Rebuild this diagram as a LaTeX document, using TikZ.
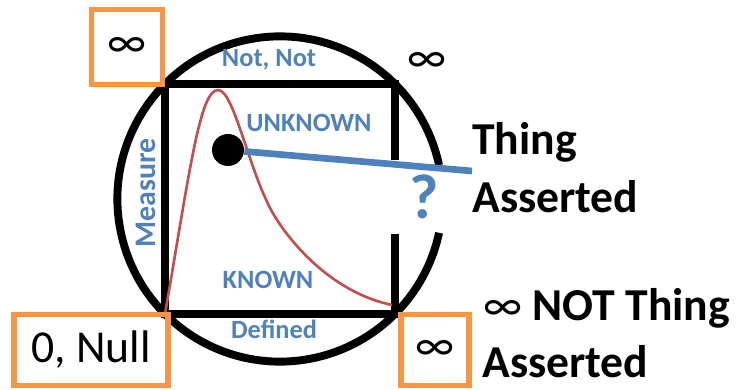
\documentclass[tikz,border=0pt]{standalone}
\usepackage{fontspec}
\setmainfont{Carlito}
\usepackage{tikz}
\definecolor{ablue}{RGB}{79,129,189}
\definecolor{aorange}{RGB}{247,150,70}
\definecolor{ared}{RGB}{192,80,77}

\begin{document}
\begin{tikzpicture}[x=0.02cm, y=0.02cm,
  heavy/.style={line width=4.5pt},
  bluetext/.style={text=ablue, font=\fontsize{15}{18}\selectfont\bfseries, inner sep=0pt, anchor=base},
  bigtext/.style={font=\fontsize{26}{31}\selectfont\bfseries, inner sep=0pt, anchor=base west},
  obox/.style={draw=aorange, line width=3.4pt, inner sep=0pt, font=\fontsize{26}{31}\selectfont}]
\useasboundingbox (0, 0) rectangle (743, 389);
% ring and square
\draw[heavy] (280, 190) ++(12:162.6) arc[start angle=12, end angle=348, radius=162.6];
\draw[heavy] (395, 229) -- (395, 305) -- (165, 305) -- (165, 75) -- (395, 75) -- (395, 155);
% curve
\draw[ared, line width=1.5pt] (165, 75) .. controls (190, 220) and (200, 299) .. (218, 299) .. controls (235, 299) and (250, 210) .. (277, 169) .. controls (300, 134) and (340, 95) .. (392, 84);
% the thing
\node[circle, fill, inner sep=0pt, minimum size=0.64cm] (claim) at (228, 239) {};
\coordinate (tip) at (472, 218);
\draw[ablue, line width=3.8pt] (claim) -- (tip);
% labels inside
\node[bluetext] (notnot) at (269, 322) {Not, Not};
\node[bluetext] (unknown) at (309, 257) {UNKNOWN};
\node[bluetext] (known) at (268, 101) {KNOWN};
\node[bluetext] (defined) at (274, 51) {Defined};
\node[bluetext, rotate=90, font=\fontsize{17}{20}\selectfont\bfseries] (measure) at (155, 196) {Measure};
\node[bluetext, font=\fontsize{36}{40}\selectfont\bfseries] (ask) at (424, 171) {?};
% corners
\node[obox, minimum width=1.42cm, minimum height=1.5cm] (inftl) at (127, 342) {∞};
\node[inner sep=0pt, font=\fontsize{26}{31}\selectfont] (inftr) at (427, 327) {∞};
\node[obox, minimum width=3.08cm, minimum height=1.42cm] (null) at (91, 39) {0, Null};
\node[obox, minimum width=1.36cm, minimum height=1.42cm] (infbr) at (435, 39) {∞};
% right side
\node[bigtext] (thing) at (472, 234) {Thing};
\node[bigtext] (asserted) at (472, 176) {Asserted};
\node[bigtext] (notthing) at (483, 69) {{\mdseries ∞} NOT Thing};
\node[bigtext] (notasserted) at (482, 12) {Asserted};
\end{tikzpicture}
\end{document}
